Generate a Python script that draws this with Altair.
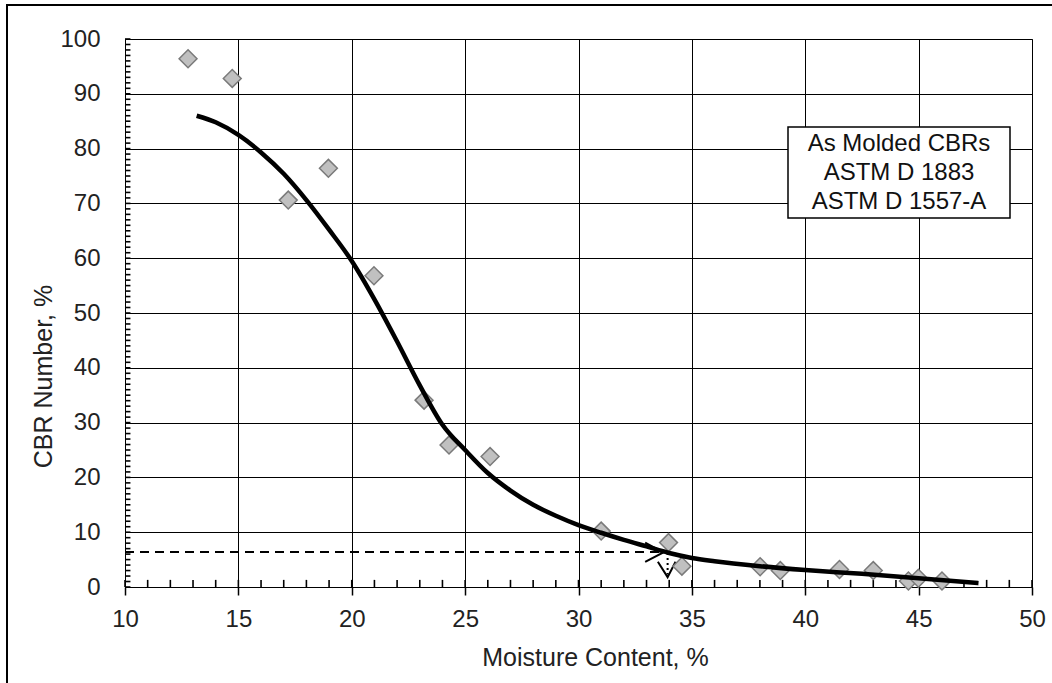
import altair as alt
import pandas as pd

# measured points (diamonds)
moisture = [12.78, 14.73, 17.2, 18.97, 20.98, 23.19, 24.29, 26.1, 31.0, 33.97,
            34.56, 38.01, 38.9, 41.51, 43.0, 44.55, 44.99, 46.03]
cbr = [96.4, 92.8, 70.6, 76.4, 56.8, 34.1, 25.9, 23.8, 10.2, 8.1,
       3.8, 3.7, 3.0, 3.2, 3.0, 1.1, 1.6, 1.1]

# fitted curve
fit_x = [13.16, 14.0, 15.0, 16.0, 17.0, 18.0, 19.0, 20.0, 21.0, 22.0, 23.0,
         24.0, 25.0, 26.0, 27.0, 28.0, 29.0, 30.0, 31.0, 32.0, 33.0, 34.0,
         35.0, 36.0, 38.0, 40.0, 42.5, 45.0, 47.64]
fit_y = [86.0, 84.8, 82.5, 79.3, 75.4, 70.6, 65.2, 59.5, 52.5, 44.8, 36.8,
         29.6, 25.0, 20.8, 17.6, 15.0, 13.0, 11.3, 9.9, 8.6, 7.4, 6.2,
         5.3, 4.7, 3.8, 3.1, 2.4, 1.6, 0.7]

# dashed guide and arrows
dash_x = [10.0, 33.7]
dash_y = [6.4, 6.4]
arrow_h_x = [32.94, 33.74, 32.94]
arrow_h_y = [8.1, 6.3, 4.6]
arrow_v_x = [33.5, 33.93, 34.28]
arrow_v_y = [4.6, 1.8, 4.6]
dot_x = [33.93, 33.93]
dot_y = [6.2, 2.3]

# axis ticks
x_major = [10, 15, 20, 25, 30, 35, 40, 45, 50]
y_major = [0, 10, 20, 30, 40, 50, 60, 70, 80, 90, 100]
x_minor = list(range(10, 51))
y_minor = list(range(0, 101))

label_lines = "As Molded  CBRs\nASTM D 1883\nASTM D 1557-A"

FONT = "Liberation Sans"
W, H = 907, 548

xs = alt.Scale(domain=[10, 50], nice=False, zero=False)
ys = alt.Scale(domain=[0, 100], nice=False, zero=False)

x_axis = alt.Axis(values=x_major, title="Moisture Content, %", grid=True,
                  gridColor="black", gridWidth=1, tickColor="black",
                  tickSize=8, tickWidth=1.5, labelPadding=12, labelFontSize=24,
                  labelFlush=False, labelOverlap=False,
                  titleFontSize=25, titleFontWeight="normal",
                  titleX=470, titleY=78, titleBaseline="alphabetic",
                  titleAnchor="middle")
y_axis = alt.Axis(values=y_major, title="CBR Number, %", grid=True,
                  gridColor="black", gridWidth=1, ticks=False, tickSize=0,
                  labelPadding=25, labelFontSize=24,
                  labelFlush=False, labelOverlap=False,
                  titleFontSize=25, titleFontWeight="normal",
                  titleX=-82, titleY=337, titleAngle=-90,
                  titleAlign="center", titleBaseline="middle")

X = alt.X("x:Q", scale=xs, axis=x_axis)
Y = alt.Y("y:Q", scale=ys, axis=y_axis)

pts = pd.DataFrame({"x": moisture, "y": cbr})
fit = pd.DataFrame({"x": fit_x, "y": fit_y})
dash = pd.DataFrame({"x": dash_x, "y": dash_y})
ah = pd.DataFrame({"x": arrow_h_x, "y": arrow_h_y, "i": [0, 1, 2]})
av = pd.DataFrame({"x": arrow_v_x, "y": arrow_v_y, "i": [0, 1, 2]})
dots = pd.DataFrame({"x": dot_x, "y": dot_y})
xm = pd.DataFrame({"x": [float(v) for v in x_minor],
                   "y": [0.0] * len(x_minor), "y2": [1.3] * len(x_minor)})
ym = pd.DataFrame({"y": [float(v) for v in y_minor],
                   "x": [10.0] * len(y_minor), "x2": [10.24] * len(y_minor)})
one = pd.DataFrame({"t": [label_lines]})

frame = alt.Chart(one).mark_rect(fill="transparent", stroke="black", strokeWidth=2).encode(
    x=alt.value(-118), x2=alt.value(1100), y=alt.value(-34), y2=alt.value(800))

xminor = alt.Chart(xm).mark_rule(color="#000000", strokeWidth=1.6, opacity=1).encode(
    x=X, y=Y, y2="y2:Q")
yminor = alt.Chart(ym).mark_rule(color="#000000", strokeWidth=1.6, opacity=1).encode(
    y=Y, x=X, x2="x2:Q")

dashed = alt.Chart(dash).mark_line(color="black", strokeWidth=2,
                                   strokeDash=[9, 6]).encode(x=X, y=Y)
arrow1 = alt.Chart(ah).mark_line(color="black", strokeWidth=2).encode(
    x=X, y=Y, order="i:O")
arrow2 = alt.Chart(av).mark_line(color="black", strokeWidth=2).encode(
    x=X, y=Y, order="i:O")
dotted = alt.Chart(dots).mark_line(color="black", strokeWidth=2,
                                   strokeDash=[2, 3]).encode(x=X, y=Y)

points = alt.Chart(pts).mark_point(shape="diamond", filled=True, fill="#c0c0c0",
                                   stroke="#7a7a7a", strokeWidth=1.5, size=320,
                                   opacity=1).encode(x=X, y=Y)

curve = alt.Chart(fit).mark_line(color="black", strokeWidth=4.5,
                                 interpolate="monotone").encode(x=X, y=Y)

box = alt.Chart(one).mark_rect(fill="white", stroke="black", strokeWidth=1.5).encode(
    x=alt.value(663), x2=alt.value(885), y=alt.value(88), y2=alt.value(179))
boxtext = alt.Chart(one).mark_text(font=FONT, fontSize=24, color="#111",
                                   lineBreak="\n", lineHeight=29, align="center",
                                   baseline="alphabetic").encode(
    x=alt.value(774), y=alt.value(112), text="t:N")

chart = alt.layer(
    frame, xminor, yminor, dashed, arrow1, arrow2, dotted, points, curve,
    box, boxtext
).properties(
    width=W, height=H,
    autosize=alt.AutoSizeParams(type="none"),
    padding={"left": 125, "top": 39, "right": 20, "bottom": 96},
    background="white",
).configure_view(
    stroke="#555", strokeWidth=1
).configure_axis(
    labelFont=FONT, titleFont=FONT, labelColor="#222", titleColor="#222",
    domainColor="black", domainWidth=1
)

chart.save("out.html", embed_options={"renderer": "svg", "actions": False})
